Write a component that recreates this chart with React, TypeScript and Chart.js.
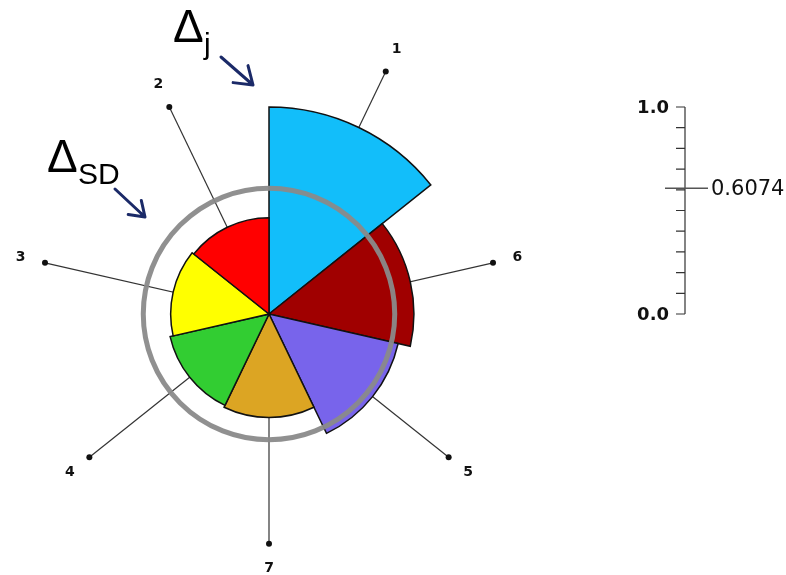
import React, { useEffect, useRef } from "react";
import { Chart, registerables } from "chart.js";

Chart.register(...registerables);

// Sectors, clockwise from 12 o'clock
const SECTOR_LABELS = ["1", "6", "5", "7", "4", "3", "2"];
const SECTOR_VALUES = [1.0, 0.7, 0.64, 0.5, 0.49, 0.475, 0.465];
const SECTOR_COLORS = [
  "rgb(18,190,250)",
  "rgb(160,0,0)",
  "rgb(120,100,235)",
  "rgb(220,165,35)",
  "rgb(50,205,50)",
  "rgb(255,255,0)",
  "rgb(255,0,0)",
];

// Reference level drawn as a ring and marked on the side scale
const SD_VALUE = 0.6074;
const SD_LABEL = "0.6074";

// Side scale
const SCALE_MIN = 0;
const SCALE_MAX = 1;
const SCALE_STEP = 0.1;
const SCALE_END_LABELS = ["0.0", "1.0"];

const annotationPlugin = {
  id: "polarAnnotations",
  beforeDatasetsDraw(chart: any) {
    const r = chart.scales.r;
    const ctx: CanvasRenderingContext2D = chart.ctx;
    const cx = r.xCenter;
    const cy = r.yCenter;
    ctx.save();
    SECTOR_LABELS.forEach((lab, i) => {
      const v = SECTOR_VALUES[i];
      const dotValue = Math.max(1.11, v + 0.3);
      const p = r.getPointPositionForValue(i + 0.5, dotValue);
      // leader line from the centre out to the dot
      ctx.strokeStyle = "#333";
      ctx.lineWidth = 1.2;
      ctx.beginPath();
      ctx.moveTo(cx, cy);
      ctx.lineTo(p.x, p.y);
      ctx.stroke();
      ctx.fillStyle = "#111";
      ctx.beginPath();
      ctx.arc(p.x, p.y, 3, 0, Math.PI * 2);
      ctx.fill();
      // sector number just beyond the dot
      const d = r.getDistanceFromCenterForValue(dotValue) + 25;
      const q = r.getPointPosition(i + 0.5, d);
      ctx.font = 'bold 14px "DejaVu Sans"';
      ctx.textAlign = "center";
      ctx.textBaseline = "middle";
      ctx.fillText(lab, q.x, q.y);
    });
    ctx.restore();
  },
  afterDatasetsDraw(chart: any) {
    const r = chart.scales.r;
    const ctx: CanvasRenderingContext2D = chart.ctx;
    const cx = r.xCenter;
    const cy = r.yCenter;
    ctx.save();

    // SD ring
    ctx.strokeStyle = "rgba(138,138,138,0.95)";
    ctx.lineWidth = 5;
    ctx.beginPath();
    ctx.arc(cx, cy, r.getDistanceFromCenterForValue(SD_VALUE), 0, Math.PI * 2);
    ctx.stroke();

    // side scale
    const axisX = 685;
    const yFor = (v: number) => cy - r.getDistanceFromCenterForValue(v);
    ctx.strokeStyle = "#333";
    ctx.lineWidth = 1.2;
    ctx.beginPath();
    ctx.moveTo(axisX, yFor(SCALE_MAX));
    ctx.lineTo(axisX, yFor(SCALE_MIN));
    const n = Math.round((SCALE_MAX - SCALE_MIN) / SCALE_STEP);
    for (let k = 0; k <= n; k++) {
      const y = yFor(SCALE_MIN + k * SCALE_STEP);
      ctx.moveTo(axisX - 9, y);
      ctx.lineTo(axisX, y);
    }
    ctx.stroke();
    ctx.fillStyle = "#111";
    ctx.font = 'bold 18px "DejaVu Sans"';
    ctx.textAlign = "right";
    ctx.textBaseline = "alphabetic";
    ctx.fillText(SCALE_END_LABELS[0], 669, yFor(SCALE_MIN) + 6);
    ctx.fillText(SCALE_END_LABELS[1], 669, yFor(SCALE_MAX) + 6);

    // SD marker
    const ySd = yFor(SD_VALUE);
    ctx.strokeStyle = "#555";
    ctx.lineWidth = 1.5;
    ctx.beginPath();
    ctx.moveTo(665, ySd);
    ctx.lineTo(708, ySd);
    ctx.stroke();
    ctx.font = '21px "DejaVu Sans"';
    ctx.textAlign = "left";
    ctx.textBaseline = "middle";
    ctx.fillText(SD_LABEL, 711, ySd + 1);

    // Δ annotations
    ctx.fillStyle = "#000";
    ctx.textBaseline = "alphabetic";
    ctx.font = '46px "Liberation Sans"';
    ctx.fillText("Δ", 173, 42);
    ctx.fillText("Δ", 47, 172);
    ctx.font = '30px "Liberation Sans"';
    ctx.fillText("j", 204, 54);
    ctx.fillText("SD", 78, 184);

    const arrow = (x0: number, y0: number, x1: number, y1: number, head: number) => {
      const ang = Math.atan2(y1 - y0, x1 - x0);
      ctx.beginPath();
      ctx.moveTo(x0, y0);
      ctx.lineTo(x1, y1);
      ctx.moveTo(x1 - head * Math.cos(ang - 0.6), y1 - head * Math.sin(ang - 0.6));
      ctx.lineTo(x1, y1);
      ctx.lineTo(x1 - head * Math.cos(ang + 0.6), y1 - head * Math.sin(ang + 0.6));
      ctx.stroke();
    };
    ctx.strokeStyle = "#1B2A68";
    ctx.lineWidth = 3;
    ctx.lineCap = "round";
    ctx.lineJoin = "round";
    arrow(221, 57, 253, 85, 20);
    arrow(115, 189, 145, 217, 17);

    ctx.restore();
  },
};

export default function App() {
  const canvasRef = useRef<HTMLCanvasElement | null>(null);

  useEffect(() => {
    const canvas = canvasRef.current;
    if (!canvas) return;
    const chart = new Chart(canvas, {
      type: "polarArea",
      data: {
        labels: SECTOR_LABELS,
        datasets: [
          {
            data: SECTOR_VALUES,
            backgroundColor: SECTOR_COLORS,
            borderColor: "#111",
            borderWidth: 1.5,
            borderJoinStyle: "miter",
          },
        ],
      },
      options: {
        animation: false,
        responsive: false,
        devicePixelRatio: 1,
        layout: { padding: { left: 62, top: 107, right: 310, bottom: 54 } },
        plugins: {
          legend: { display: false },
          tooltip: { enabled: false },
        },
        scales: {
          r: {
            min: SCALE_MIN,
            max: SCALE_MAX,
            startAngle: 0,
            ticks: { display: false },
            grid: { display: false },
            angleLines: { display: false },
            pointLabels: { display: false },
          },
        },
      },
      plugins: [annotationPlugin],
    } as any);
    return () => chart.destroy();
  }, []);

  return (
    <div style={{ position: "fixed", left: 0, top: 0, width: 786, height: 575, background: "#fff" }}>
      <canvas ref={canvasRef} width={786} height={575} style={{ width: 786, height: 575 }} />
    </div>
  );
}
